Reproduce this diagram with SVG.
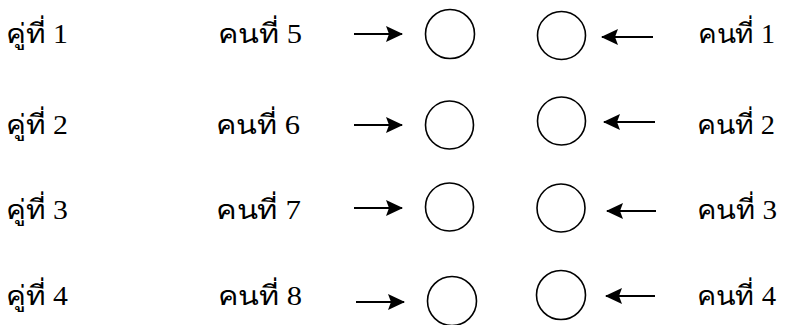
<svg xmlns="http://www.w3.org/2000/svg" width="786" height="325" viewBox="0 0 786 325">
<style>
text{font-family:"Liberation Serif","DejaVu Serif",serif;font-size:27px;fill:#000}
.c{fill:none;stroke:#000;stroke-width:1.6}
.a{stroke:#000;stroke-width:2;fill:none}
</style>
<defs>
<marker id="ah" markerWidth="18" markerHeight="16" refX="16" refY="8" orient="auto" markerUnits="userSpaceOnUse" overflow="visible">
<path d="M0,0 L17,8 L0,16 L3,8 Z" fill="#000"/>
</marker>
</defs>
<rect width="786" height="325" fill="#fff"/>
<g id="labels-left">
<text x="6" y="43" textLength="62" lengthAdjust="spacingAndGlyphs">คู่ที่ 1</text>
<text x="6" y="134" textLength="62" lengthAdjust="spacingAndGlyphs">คู่ที่ 2</text>
<text x="6" y="219" textLength="62" lengthAdjust="spacingAndGlyphs">คู่ที่ 3</text>
<text x="6" y="305" textLength="62" lengthAdjust="spacingAndGlyphs">คู่ที่ 4</text>
</g>
<g id="person5"><text x="218" y="43" textLength="84" lengthAdjust="spacingAndGlyphs">คนที่ 5</text><circle class="c" cx="450" cy="34" r="24.5"/></g>
<g id="person6"><text x="216" y="134" textLength="84" lengthAdjust="spacingAndGlyphs">คนที่ 6</text><circle class="c" cx="449.5" cy="125" r="24"/></g>
<g id="person7"><text x="216" y="219" textLength="85" lengthAdjust="spacingAndGlyphs">คนที่ 7</text><circle class="c" cx="449.5" cy="207" r="24"/></g>
<g id="person8"><text x="218" y="305" textLength="84" lengthAdjust="spacingAndGlyphs">คนที่ 8</text><circle class="c" cx="452" cy="301" r="24.5"/></g>
<g id="person1"><text x="698" y="43" textLength="77" lengthAdjust="spacingAndGlyphs">คนที่ 1</text><circle class="c" cx="561.5" cy="35.5" r="24"/></g>
<g id="person2"><text x="697" y="134" textLength="78" lengthAdjust="spacingAndGlyphs">คนที่ 2</text><circle class="c" cx="561.5" cy="121" r="24"/></g>
<g id="person3"><text x="697" y="219" textLength="80" lengthAdjust="spacingAndGlyphs">คนที่ 3</text><circle class="c" cx="561" cy="208" r="24"/></g>
<g id="person4"><text x="697" y="305" textLength="79" lengthAdjust="spacingAndGlyphs">คนที่ 4</text><circle class="c" cx="561" cy="295" r="24.5"/></g>
<g id="connectors">
<line class="a" x1="354" y1="34" x2="402" y2="34" marker-end="url(#ah)"/>
<line class="a" x1="354" y1="125" x2="402" y2="125" marker-end="url(#ah)"/>
<line class="a" x1="354" y1="208" x2="402" y2="208" marker-end="url(#ah)"/>
<line class="a" x1="356" y1="302" x2="404" y2="302" marker-end="url(#ah)"/>
<line class="a" x1="653" y1="37" x2="602" y2="37" marker-end="url(#ah)"/>
<line class="a" x1="655" y1="122" x2="604" y2="122" marker-end="url(#ah)"/>
<line class="a" x1="656" y1="211" x2="607" y2="211" marker-end="url(#ah)"/>
<line class="a" x1="655" y1="296" x2="606" y2="296" marker-end="url(#ah)"/>
</g>
</svg>
